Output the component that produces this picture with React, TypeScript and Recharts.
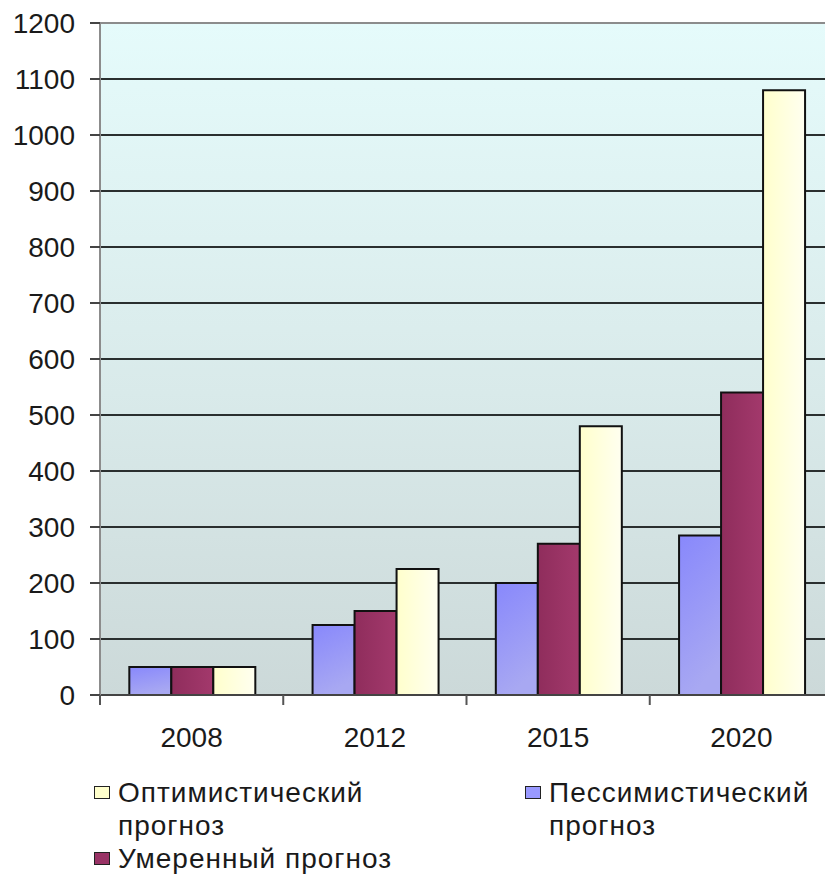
import React from 'react';
import { BarChart, Bar, XAxis, YAxis, CartesianGrid, Legend, ReferenceLine } from 'recharts';

const years = ['2008', '2012', '2015', '2020'];
const pessimistic = [50, 125, 200, 285];
const moderate = [50, 150, 270, 540];
const optimistic = [50, 225, 480, 1080];
const yTicks = [0, 100, 200, 300, 400, 500, 600, 700, 800, 900, 1000, 1100, 1200];

const pessName = 'Пессимистический прогноз';
const modName = 'Умеренный прогноз';
const optName = 'Оптимистический прогноз';

const optLines = ['Оптимистический', 'прогноз'];
const pessLines = ['Пессимистический', 'прогноз'];
const modLines = ['Умеренный прогноз'];

const data = years.map((year, i) => ({
  year,
  pess: pessimistic[i],
  mod: moderate[i],
  opt: optimistic[i],
}));

const FONT = '"Liberation Sans", Arial, sans-serif';

const XTick = (props: any) => {
  const { x, y, payload, index, visibleTicksCount, width } = props;
  const n = visibleTicksCount || years.length;
  const half = typeof width === 'number' && width > 0 ? width / n / 2 : payload?.offset ?? 0;
  return (
    <g>
      <line x1={x - half} x2={x - half} y1={y} y2={y + 10} stroke="#555" strokeWidth={2} />
      {index === n - 1 && (
        <line x1={x + half} x2={x + half} y1={y} y2={y + 10} stroke="#555" strokeWidth={2} />
      )}
      <text x={x} y={y + 52} textAnchor="middle" fontSize={28} fill="#1a1a1a" fontFamily={FONT}>
        {payload.value}
      </text>
    </g>
  );
};

const LegendItem = ({ left, top, lines, fill }: { left: number; top: number; lines: string[]; fill: string }) => (
  <div style={{ position: 'absolute', left, top }}>
    <div
      style={{
        position: 'absolute',
        left: 0,
        top: 10,
        width: 14,
        height: 11,
        background: fill,
        border: '1.5px solid #222',
      }}
    />
    <div
      style={{
        position: 'absolute',
        left: 24,
        top: 0,
        whiteSpace: 'nowrap',
        fontFamily: FONT,
        fontSize: 28,
        lineHeight: '33px',
        color: '#1a1a1a',
        letterSpacing: 1,
      }}
    >
      {lines.map((l, i) => (
        <div key={i}>{l}</div>
      ))}
    </div>
  </div>
);

const LegendBlock = () => (
  <div style={{ position: 'relative', width: 833, height: 110 }}>
    <LegendItem left={94} top={0} lines={optLines} fill="#ffffcc" />
    <LegendItem left={525} top={0} lines={pessLines} fill="#9999ff" />
    <LegendItem left={94} top={66} lines={modLines} fill="#993366" />
  </div>
);

export default function App() {
  return (
    <div style={{ marginLeft: -8, marginTop: -8, width: 833, height: 886, background: '#fff' }}>
      <BarChart
        width={833}
        height={886}
        data={data}
        margin={{ top: 23, right: 0, left: 0, bottom: 151 }}
        barCategoryGap="16%"
        barGap={0}
      >
        <defs>
          <linearGradient id="bgGrad" x1="0" y1="0" x2="0" y2="1">
            <stop offset="0%" stopColor="#e5fbfb" />
            <stop offset="55%" stopColor="#d9eaea" />
            <stop offset="100%" stopColor="#ccd9d9" />
          </linearGradient>
          <linearGradient id="pessGrad" x1="0" y1="0" x2="0.3" y2="1">
            <stop offset="0%" stopColor="#8888fc" />
            <stop offset="100%" stopColor="#a8a8f2" />
          </linearGradient>
          <linearGradient id="modGrad" x1="0" y1="0" x2="1" y2="0">
            <stop offset="0%" stopColor="#8f2d5c" />
            <stop offset="100%" stopColor="#a3396c" />
          </linearGradient>
          <linearGradient id="optGrad" x1="0" y1="0" x2="1" y2="0">
            <stop offset="0%" stopColor="#ffffcc" />
            <stop offset="100%" stopColor="#fffff0" />
          </linearGradient>
        </defs>
        <CartesianGrid
          vertical={false}
          fill="url(#bgGrad)"
          fillOpacity={1}
          stroke="#2a2f2f"
          strokeWidth={2}
        />
        <ReferenceLine y={1200} stroke="#8c8c8c" strokeWidth={2} />
        <XAxis
          dataKey="year"
          height={40}
          tickSize={0}
          tickMargin={0}
          tickLine={false}
          axisLine={{ stroke: '#444', strokeWidth: 2 }}
          tick={<XTick />}
          interval={0}
        />
        <YAxis
          width={100}
          domain={[0, 1200]}
          ticks={yTicks}
          interval={0}
          tickSize={10}
          tickMargin={15}
          tickLine={{ stroke: '#444', strokeWidth: 2 }}
          axisLine={{ stroke: '#8c8c8c', strokeWidth: 2 }}
          tick={{ fontSize: 28, fill: '#1a1a1a', fontFamily: FONT }}
        />
        <Legend
          layout="horizontal"
          verticalAlign="middle"
          align="center"
          wrapperStyle={{ top: 776, left: 0, width: 833 }}
          content={() => <LegendBlock />}
        />
        <Bar dataKey="pess" name={pessName} fill="url(#pessGrad)" stroke="#111" strokeWidth={2} isAnimationActive={false} />
        <Bar dataKey="mod" name={modName} fill="url(#modGrad)" stroke="#111" strokeWidth={2} isAnimationActive={false} />
        <Bar dataKey="opt" name={optName} fill="url(#optGrad)" stroke="#111" strokeWidth={2} isAnimationActive={false} />
      </BarChart>
    </div>
  );
}
